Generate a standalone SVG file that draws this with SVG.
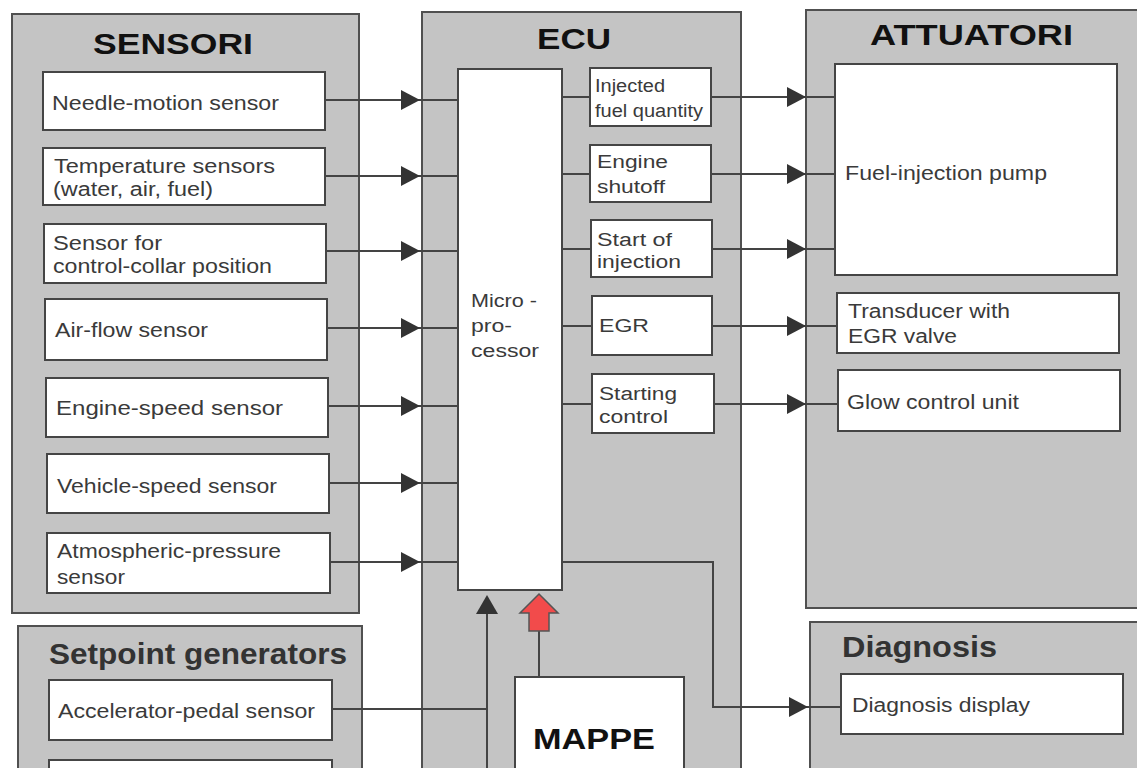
<svg xmlns="http://www.w3.org/2000/svg" width="1137" height="768" viewBox="0 0 1137 768">
<style>
.panel{fill:#c4c4c4;stroke:#505050;stroke-width:2}
.box{fill:#ffffff;stroke:#454545;stroke-width:2}
.t{font-family:"Liberation Sans",Arial,sans-serif;font-size:20px;fill:#3a3a3a}
.s{font-family:"Liberation Sans",Arial,sans-serif;font-size:18px;fill:#3a3a3a}
.h{font-family:"Liberation Sans",Arial,sans-serif;font-size:29px;font-weight:bold;fill:#111}
.h2{font-family:"Liberation Sans",Arial,sans-serif;font-size:29px;font-weight:bold;fill:#333}
.c{fill:none;stroke:#444;stroke-width:2}
.ah{fill:#333}
</style>
<defs>
<marker id="arr" markerUnits="userSpaceOnUse" markerWidth="20" markerHeight="20" refX="19" refY="10" orient="auto">
<path d="M0,0 L19,10 L0,20 z" class="ah"/>
</marker>
</defs>
<rect width="1137" height="768" fill="#ffffff"/>

<g id="panel-sensori">
<rect class="panel" x="12" y="14" width="347" height="599"/>
<text class="h" x="93" y="54" textLength="160" lengthAdjust="spacingAndGlyphs">SENSORI</text>
</g>
<g id="panel-setpoint">
<rect class="panel" x="18" y="626" width="344" height="170"/>
<text class="h2" x="49" y="664" textLength="298" lengthAdjust="spacingAndGlyphs">Setpoint generators</text>
</g>
<g id="panel-ecu">
<rect class="panel" x="422" y="12" width="319" height="790"/>
<text class="h" x="537" y="49" textLength="74" lengthAdjust="spacingAndGlyphs">ECU</text>
</g>
<g id="panel-attuatori">
<rect class="panel" x="806" y="10" width="350" height="598"/>
<text class="h" x="870" y="45" textLength="203" lengthAdjust="spacingAndGlyphs">ATTUATORI</text>
</g>
<g id="panel-diagnosis">
<rect class="panel" x="810" y="622" width="350" height="180"/>
<text class="h2" x="842" y="657" textLength="155" lengthAdjust="spacingAndGlyphs">Diagnosis</text>
</g>

<g id="connectors">
<path class="c" d="M325,100 H420" marker-end="url(#arr)"/><path class="c" d="M420,100 H458"/>
<path class="c" d="M325,176 H420" marker-end="url(#arr)"/><path class="c" d="M420,176 H458"/>
<path class="c" d="M326,251 H420" marker-end="url(#arr)"/><path class="c" d="M420,251 H458"/>
<path class="c" d="M327,328 H420" marker-end="url(#arr)"/><path class="c" d="M420,328 H458"/>
<path class="c" d="M328,406 H420" marker-end="url(#arr)"/><path class="c" d="M420,406 H458"/>
<path class="c" d="M329,483 H420" marker-end="url(#arr)"/><path class="c" d="M420,483 H458"/>
<path class="c" d="M330,562 H420" marker-end="url(#arr)"/><path class="c" d="M420,562 H458"/>

<path class="c" d="M562,97 H590"/>
<path class="c" d="M562,174 H590"/>
<path class="c" d="M562,249 H591"/>
<path class="c" d="M562,326 H592"/>
<path class="c" d="M562,404 H592"/>

<path class="c" d="M711,97 H806" marker-end="url(#arr)"/><path class="c" d="M806,97 H835"/>
<path class="c" d="M711,174 H806" marker-end="url(#arr)"/><path class="c" d="M806,174 H835"/>
<path class="c" d="M712,249 H806" marker-end="url(#arr)"/><path class="c" d="M806,249 H835"/>
<path class="c" d="M712,326 H806" marker-end="url(#arr)"/><path class="c" d="M806,326 H837"/>
<path class="c" d="M714,404 H806" marker-end="url(#arr)"/><path class="c" d="M806,404 H838"/>

<path class="c" d="M562,562 H713 V707 H808" marker-end="url(#arr)"/><path class="c" d="M808,707 H841"/>

<path class="c" d="M332,709 H487"/>
<path class="c" d="M487,780 V612"/>
<path d="M476,614 L487,595 L498,614 z" class="ah"/>

<path class="c" d="M539,677 V630"/>
<path d="M539,594 L558,613 L549,613 L549,631 L529,631 L529,613 L520,613 z" fill="#f24b4b" stroke="#555" stroke-width="1.5"/>
</g>

<g id="n-needle"><rect class="box" x="43" y="72" width="282" height="58"/><text class="t" x="52" y="110" textLength="227" lengthAdjust="spacingAndGlyphs">Needle-motion sensor</text></g>
<g id="n-temp"><rect class="box" x="43" y="148" width="282" height="57"/><text class="t" x="54" y="173" textLength="221" lengthAdjust="spacingAndGlyphs">Temperature sensors</text><text class="t" x="53" y="196" textLength="160" lengthAdjust="spacingAndGlyphs">(water, air, fuel)</text></g>
<g id="n-collar"><rect class="box" x="44" y="224" width="282" height="59"/><text class="t" x="53" y="250" textLength="109" lengthAdjust="spacingAndGlyphs">Sensor for</text><text class="t" x="53" y="273" textLength="219" lengthAdjust="spacingAndGlyphs">control-collar position</text></g>
<g id="n-airflow"><rect class="box" x="45" y="299" width="282" height="61"/><text class="t" x="55" y="337" textLength="153" lengthAdjust="spacingAndGlyphs">Air-flow sensor</text></g>
<g id="n-engine-speed"><rect class="box" x="46" y="378" width="282" height="59"/><text class="t" x="56" y="415" textLength="227" lengthAdjust="spacingAndGlyphs">Engine-speed sensor</text></g>
<g id="n-vehicle-speed"><rect class="box" x="47" y="454" width="282" height="59"/><text class="t" x="57" y="493" textLength="220" lengthAdjust="spacingAndGlyphs">Vehicle-speed sensor</text></g>
<g id="n-atmos"><rect class="box" x="47" y="533" width="283" height="60"/><text class="t" x="57" y="558" textLength="224" lengthAdjust="spacingAndGlyphs">Atmospheric-pressure</text><text class="t" x="57" y="584" textLength="68" lengthAdjust="spacingAndGlyphs">sensor</text></g>

<g id="n-accel"><rect class="box" x="49" y="680" width="283" height="60"/><text class="t" x="58" y="718" textLength="257" lengthAdjust="spacingAndGlyphs">Accelerator-pedal sensor</text></g>
<g id="n-setpoint2"><rect class="box" x="49" y="760" width="283" height="40"/></g>

<g id="n-micro"><rect class="box" x="458" y="69" width="104" height="521"/><text class="s" x="471" y="307" textLength="66" lengthAdjust="spacingAndGlyphs">Micro -</text><text class="s" x="471" y="332" textLength="41" lengthAdjust="spacingAndGlyphs">pro-</text><text class="s" x="471" y="357" textLength="68" lengthAdjust="spacingAndGlyphs">cessor</text></g>
<g id="n-injected"><rect class="box" x="590" y="68" width="121" height="58"/><text class="s" x="595" y="92" textLength="70" lengthAdjust="spacingAndGlyphs">Injected</text><text class="s" x="595" y="117" textLength="108" lengthAdjust="spacingAndGlyphs">fuel quantity</text></g>
<g id="n-shutoff"><rect class="box" x="590" y="145" width="121" height="57"/><text class="s" x="597" y="168" textLength="71" lengthAdjust="spacingAndGlyphs">Engine</text><text class="s" x="597" y="193" textLength="68" lengthAdjust="spacingAndGlyphs">shutoff</text></g>
<g id="n-start-inj"><rect class="box" x="591" y="220" width="121" height="57"/><text class="s" x="597" y="246" textLength="75" lengthAdjust="spacingAndGlyphs">Start of</text><text class="s" x="597" y="268" textLength="84" lengthAdjust="spacingAndGlyphs">injection</text></g>
<g id="n-egr"><rect class="box" x="592" y="296" width="120" height="59"/><text class="s" x="599" y="332" textLength="50" lengthAdjust="spacingAndGlyphs">EGR</text></g>
<g id="n-starting"><rect class="box" x="592" y="374" width="122" height="59"/><text class="s" x="599" y="400" textLength="78" lengthAdjust="spacingAndGlyphs">Starting</text><text class="s" x="599" y="423" textLength="69" lengthAdjust="spacingAndGlyphs">control</text></g>
<g id="n-mappe"><rect class="box" x="515" y="677" width="169" height="120"/><text class="h" x="533" y="749" textLength="122" lengthAdjust="spacingAndGlyphs">MAPPE</text></g>

<g id="n-pump"><rect class="box" x="835" y="64" width="282" height="211"/><text class="t" x="845" y="180" textLength="202" lengthAdjust="spacingAndGlyphs">Fuel-injection pump</text></g>
<g id="n-transducer"><rect class="box" x="837" y="293" width="282" height="60"/><text class="t" x="848" y="318" textLength="162" lengthAdjust="spacingAndGlyphs">Transducer with</text><text class="t" x="848" y="343" textLength="109" lengthAdjust="spacingAndGlyphs">EGR valve</text></g>
<g id="n-glow"><rect class="box" x="838" y="370" width="282" height="61"/><text class="t" x="847" y="409" textLength="172" lengthAdjust="spacingAndGlyphs">Glow control unit</text></g>
<g id="n-diag"><rect class="box" x="841" y="674" width="282" height="60"/><text class="t" x="852" y="712" textLength="178" lengthAdjust="spacingAndGlyphs">Diagnosis display</text></g>
</svg>
